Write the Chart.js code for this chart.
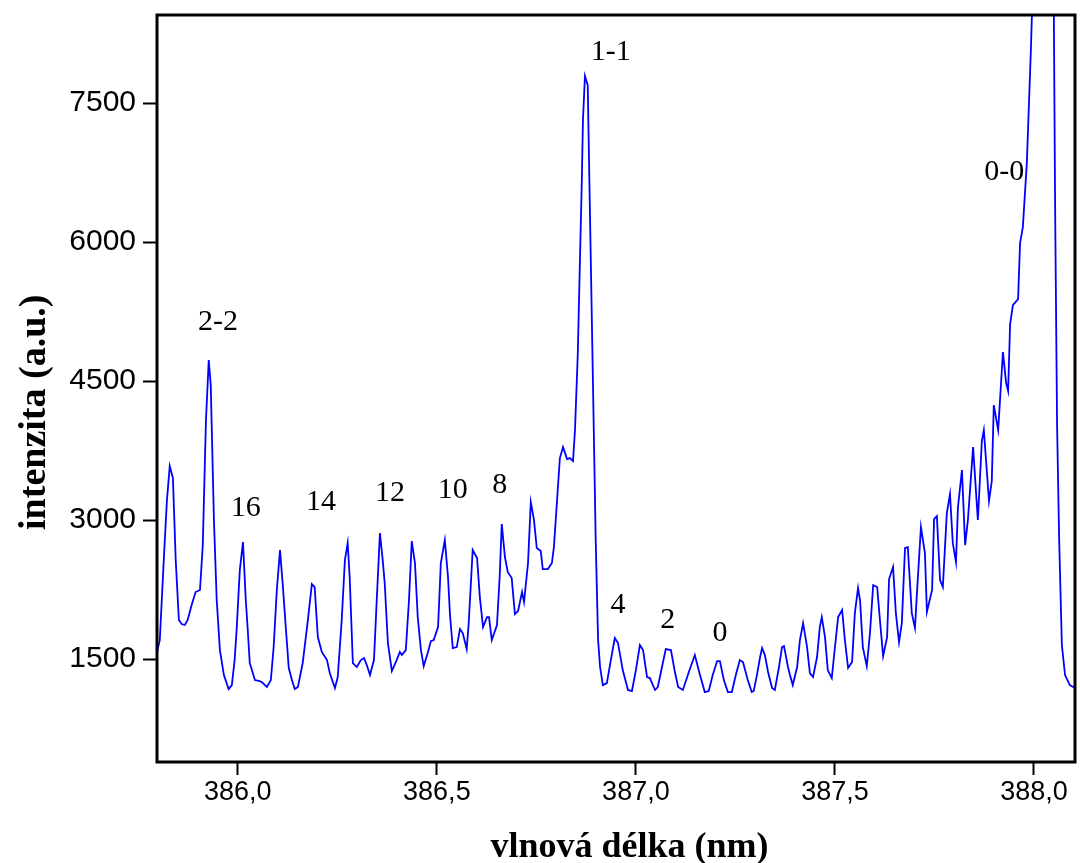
<!DOCTYPE html>
<html>
<head>
<meta charset="utf-8">
<script src="https://cdn.jsdelivr.net/npm/chart.js@4/dist/chart.umd.min.js"></script>
<style>
  body { margin: 0; background: #fff; }
  canvas { display: block; }
</style>
</head>
<body>
<canvas id="spectrumChart" width="1080" height="863"></canvas>
<script>
// wavelength (nm)
var wavelength = [
  385.797, 385.804, 385.814, 385.822, 385.829, 385.837, 385.844, 385.852, 385.859, 385.867,
  385.874, 385.884, 385.894, 385.905, 385.912, 385.920, 385.927, 385.932, 385.940, 385.947,
  385.955, 385.965, 385.977, 385.985, 385.992, 385.997, 386.005, 386.013, 386.020, 386.025,
  386.030, 386.043, 386.055, 386.063, 386.073, 386.083, 386.090, 386.098, 386.106, 386.113,
  386.121, 386.128, 386.136, 386.143, 386.151, 386.163, 386.176, 386.186, 386.193, 386.201,
  386.211, 386.224, 386.231, 386.244, 386.251, 386.261, 386.269, 386.276, 386.281, 386.289,
  386.299, 386.309, 386.317, 386.324, 386.332, 386.342, 386.349, 386.357, 386.364, 386.369,
  386.377, 386.387, 386.399, 386.407, 386.412, 386.422, 386.430, 386.437, 386.445, 386.452,
  386.460, 386.467, 386.477, 386.485, 386.492, 386.503, 386.510, 386.520, 386.528, 386.533,
  386.540, 386.550, 386.558, 386.565, 386.575, 386.580, 386.590, 386.601, 386.608, 386.616,
  386.626, 386.631, 386.638, 386.651, 386.658, 386.663, 386.671, 386.678, 386.688, 386.696,
  386.704, 386.714, 386.719, 386.729, 386.736, 386.744, 386.751, 386.761, 386.766, 386.779,
  386.789, 386.794, 386.802, 386.809, 386.817, 386.827, 386.834, 386.842, 386.847, 386.854,
  386.859, 386.864, 386.867, 386.872, 386.879, 386.884, 386.892, 386.899, 386.905, 386.910,
  386.917, 386.927, 386.937, 386.947, 386.955, 386.967, 386.980, 386.990, 387.000, 387.010,
  387.018, 387.028, 387.035, 387.048, 387.055, 387.065, 387.075, 387.088, 387.098, 387.106,
  387.118, 387.133, 387.148, 387.161, 387.173, 387.183, 387.193, 387.204, 387.211, 387.221,
  387.231, 387.241, 387.251, 387.261, 387.269, 387.281, 387.291, 387.296, 387.304, 387.312,
  387.317, 387.324, 387.332, 387.342, 387.349, 387.359, 387.367, 387.372, 387.382, 387.387,
  387.394, 387.405, 387.412, 387.420, 387.430, 387.437, 387.445, 387.455, 387.462, 387.467,
  387.475, 387.482, 387.492, 387.500, 387.508, 387.518, 387.525, 387.533, 387.543, 387.550,
  387.558, 387.563, 387.570, 387.580, 387.588, 387.596, 387.606, 387.613, 387.621, 387.631,
  387.636, 387.646, 387.653, 387.661, 387.668, 387.676, 387.683, 387.693, 387.701, 387.706,
  387.716, 387.726, 387.731, 387.744, 387.749, 387.756, 387.764, 387.771, 387.781, 387.789,
  387.796, 387.804, 387.809, 387.819, 387.827, 387.834, 387.847, 387.859, 387.869, 387.874,
  387.887, 387.894, 387.899, 387.910, 387.922, 387.930, 387.935, 387.940, 387.947, 387.960,
  387.965, 387.972, 387.982, 387.992, 388.005, 388.025, 388.048, 388.053, 388.058, 388.063,
  388.070, 388.078, 388.090, 388.103
];

// intensity (a.u.), same order as wavelength
var intensity = [
  1576, 1705, 2568, 3216, 3582, 3453, 2568, 1921, 1878, 1867,
  1921, 2083, 2223, 2245, 2730, 4079, 4726, 4456, 3000, 2137,
  1597, 1327, 1176, 1219, 1489, 1813, 2460, 2762, 2137, 1813,
  1457, 1273, 1263, 1241, 1198, 1273, 1629, 2245, 2676, 2298,
  1813, 1403, 1273, 1176, 1198, 1457, 1921, 2309, 2277, 1737,
  1576, 1489, 1349, 1187, 1306, 1921, 2568, 2752, 2385, 1457,
  1414, 1489, 1511, 1435, 1327, 1489, 2137, 2860, 2568, 2320,
  1673, 1371, 1489, 1576, 1543, 1597, 2137, 2773, 2536, 1953,
  1597, 1424, 1565, 1694, 1705, 1845, 2536, 2784, 2385, 1975,
  1619, 1629, 1824, 1781, 1608, 1888, 2676, 2590, 2169, 1845,
  1953, 1953, 1705, 1867, 2406, 2957, 2601, 2439, 2374, 1986,
  2018, 2223, 2115, 2536, 3194, 3000, 2698, 2665, 2471, 2471,
  2536, 2708, 3216, 3669, 3787, 3658, 3669, 3636, 3971, 4791,
  5719, 6636, 7316, 7791, 7693, 6453, 4510, 2784, 1705, 1414,
  1219, 1241, 1489, 1727, 1673, 1381, 1166, 1155, 1381, 1651,
  1597, 1306, 1295, 1166, 1198, 1403, 1608, 1597, 1360, 1198,
  1166, 1360, 1543, 1327, 1144, 1155, 1327, 1478, 1478, 1273,
  1144, 1144, 1327, 1489, 1468, 1273, 1144, 1155, 1327, 1522,
  1619, 1543, 1360, 1187, 1166, 1403, 1629, 1640, 1414, 1327,
  1219, 1414, 1705, 1888, 1629, 1349, 1306, 1522, 1845, 1953,
  1737, 1381, 1295, 1629, 1953, 2029, 1705, 1403, 1468, 1996,
  2266, 2137, 1629, 1424, 1781, 2298, 2277, 1921, 1532, 1737,
  2363, 2493, 1996, 1683, 1888, 2698, 2708, 1996, 1834, 2212,
  2924, 2644, 2007, 2245, 3011, 3043, 2352, 2277, 3075, 3280,
  2752, 2547, 3140, 3539, 2730, 3000, 3787, 3000, 3852, 3971,
  3205, 3421, 4241, 3971, 4813, 4478, 4392, 5115, 5320, 5384,
  5989, 6161, 6852, 8050, 9905, 11850, 9690, 6409, 4025, 2827,
  1651, 1327, 1219, 1187
];

var xTicks = [386.0, 386.5, 387.0, 387.5, 388.0];
var yTicks = [1500, 3000, 4500, 6000, 7500];

// band labels placed in data coordinates
var bandText = ['2-2', '16', '14', '12', '10', '8', '1-1', '4', '2', '0', '0-0'];
var bandX = [385.950, 386.020, 386.209, 386.382, 386.540, 386.658, 386.937, 386.955, 387.080, 387.211, 387.925];
var bandY = [5136, 3129, 3194, 3291, 3324, 3377, 8050, 2083, 1921, 1781, 6755];

var points = wavelength.map(function(w, i) { return { x: w, y: intensity[i] }; });

var bandLabelPlugin = {
    id: 'bandLabels',
    afterDatasetsDraw: function(chart) {
        var ctx = chart.ctx;
        var xs = chart.scales.x;
        var ys = chart.scales.y;
        ctx.save();
        ctx.font = '30px "Liberation Serif", "Times New Roman", serif';
        ctx.fillStyle = '#000000';
        ctx.textAlign = 'center';
        ctx.textBaseline = 'middle';
        for (var i = 0; i < bandText.length; i++) {
            ctx.fillText(bandText[i], xs.getPixelForValue(bandX[i]), ys.getPixelForValue(bandY[i]));
        }
        // frame around the plot area
        var a = chart.chartArea;
        ctx.lineWidth = 3;
        ctx.strokeStyle = '#000000';
        ctx.strokeRect(a.left, a.top, a.right - a.left, a.bottom - a.top);
        ctx.restore();
    }
};

var ctx = document.getElementById('spectrumChart').getContext('2d');
var spectrumChart = new Chart(ctx, {
    type: 'line',
    data: {
        datasets: [{
            data: points,
            borderColor: '#0000ff',
            borderWidth: 1.8,
            pointRadius: 0,
            tension: 0,
            fill: false
        }]
    },
    options: {
        responsive: false,
        animation: false,
        devicePixelRatio: 1,
        layout: {
            padding: { top: 15, right: 5, left: 0, bottom: 0 }
        },
        plugins: {
            legend: { display: false },
            tooltip: { enabled: false }
        },
        scales: {
            x: {
                type: 'linear',
                min: 385.797,
                max: 388.103,
                afterBuildTicks: function(scale) {
                    scale.ticks = xTicks.map(function(v) { return { value: v }; });
                },
                afterFit: function(scale) {
                    scale.height = 101;
                    scale.paddingLeft = 0;
                    scale.paddingRight = 0;
                },
                ticks: {
                    color: '#000000',
                    padding: 1,
                    maxRotation: 0,
                    font: { family: '"Liberation Sans Narrow", "Liberation Sans", Arial, sans-serif', size: 27 },
                    callback: function(value) { return value.toFixed(1).replace('.', ','); }
                },
                grid: {
                    drawOnChartArea: false,
                    drawTicks: true,
                    tickLength: 13,
                    tickWidth: 2,
                    tickColor: '#000000'
                },
                border: { display: false },
                title: {
                    display: true,
                    // leading spaces nudge the title a little to the right
                    text: '   vlnová délka (nm)',
                    color: '#000000',
                    padding: { top: 0, bottom: 0 },
                    font: { family: '"Liberation Serif", "Times New Roman", serif', size: 36, weight: 'bold', lineHeight: 0.85 }
                }
            },
            y: {
                type: 'linear',
                min: 389,
                max: 8450,
                afterBuildTicks: function(scale) {
                    scale.ticks = yTicks.map(function(v) { return { value: v }; });
                },
                afterFit: function(scale) {
                    scale.width = 157;
                    scale.paddingTop = 0;
                    scale.paddingBottom = 0;
                },
                ticks: {
                    color: '#000000',
                    padding: 7,
                    font: { family: '"Liberation Sans", Arial, sans-serif', size: 30 },
                    callback: function(value) { return String(value); }
                },
                grid: {
                    drawOnChartArea: false,
                    drawTicks: true,
                    tickLength: 14,
                    tickWidth: 2,
                    tickColor: '#000000'
                },
                border: { display: false },
                title: {
                    display: true,
                    // trailing spaces nudge the title a little lower
                    text: 'intenzita (a.u.)     ',
                    color: '#000000',
                    padding: { top: 12, bottom: 0 },
                    font: { family: '"Liberation Serif", "Times New Roman", serif', size: 38, weight: 'bold', lineHeight: 1.2 }
                }
            }
        }
    },
    plugins: [bandLabelPlugin]
});
</script>
</body>
</html>
